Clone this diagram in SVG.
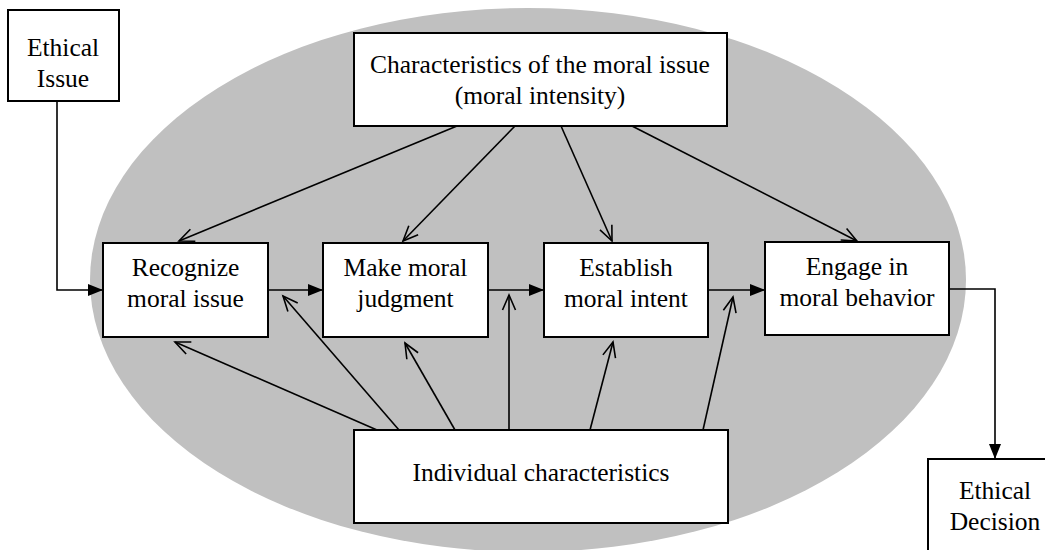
<svg xmlns="http://www.w3.org/2000/svg" width="1045" height="550" viewBox="0 0 1045 550">
<style>
.box{fill:#fff;stroke:#000;stroke-width:2}
.t{font-family:"Liberation Serif","Times New Roman",serif;font-size:25.5px;fill:#000;text-anchor:middle}
.c{fill:none;stroke:#000;stroke-width:1.6}
.f{marker-end:url(#fa)}
.o{marker-end:url(#oa)}
</style>
<defs>
<marker id="fa" markerUnits="userSpaceOnUse" markerWidth="16" markerHeight="12" refX="15" refY="6" orient="auto" overflow="visible">
<path d="M0,0 L15,6 L0,12 z" fill="#000"/>
</marker>
<marker id="oa" markerUnits="userSpaceOnUse" markerWidth="18" markerHeight="14" refX="16" refY="7" orient="auto" overflow="visible">
<path d="M1,0.5 L16,7 L1,13.5" fill="none" stroke="#000" stroke-width="1.6"/>
</marker>
</defs>
<ellipse id="background" cx="528" cy="280" rx="438" ry="272" fill="#c0c0c0"/>
<g id="connectors">
<path class="c f" d="M57,101 L57,290 L103,290"/>
<path class="c f" d="M268,290 L323,290"/>
<path class="c f" d="M488,290 L544,290"/>
<path class="c f" d="M708,290 L765,290"/>
<path class="c f" d="M949,289 L995,289 L995,459"/>
<path class="c o" d="M457,126 L179,241"/>
<path class="c o" d="M515,126 L403,241"/>
<path class="c o" d="M561,126 L612,241"/>
<path class="c o" d="M632,126 L857,241"/>
<path class="c o" d="M377,430 L175,342"/>
<path class="c o" d="M399,430 L283,296"/>
<path class="c o" d="M455,430 L405,343"/>
<path class="c o" d="M509,430 L509,295"/>
<path class="c o" d="M590,430 L613,342"/>
<path class="c o" d="M703,430 L733,297"/>
</g>
<g id="ethical-issue">
<rect class="box" x="8" y="10" width="111" height="91"/>
<text class="t" x="63" y="56">Ethical</text>
<text class="t" x="63" y="87">Issue</text>
</g>
<g id="characteristics">
<rect class="box" x="354" y="33" width="373" height="93"/>
<text class="t" x="540" y="73">Characteristics of the moral issue</text>
<text class="t" x="540" y="104">(moral intensity)</text>
</g>
<g id="recognize">
<rect class="box" x="103" y="243" width="165" height="94"/>
<text class="t" x="185.5" y="276">Recognize</text>
<text class="t" x="185.5" y="307">moral issue</text>
</g>
<g id="judgment">
<rect class="box" x="323" y="243" width="165" height="94"/>
<text class="t" x="405.5" y="276">Make moral</text>
<text class="t" x="405.5" y="307">judgment</text>
</g>
<g id="intent">
<rect class="box" x="544" y="243" width="164" height="94"/>
<text class="t" x="626" y="276">Establish</text>
<text class="t" x="626" y="307">moral intent</text>
</g>
<g id="behavior">
<rect class="box" x="765" y="242" width="184" height="93"/>
<text class="t" x="857" y="275">Engage in</text>
<text class="t" x="857" y="306">moral behavior</text>
</g>
<g id="individual">
<rect class="box" x="354" y="430" width="374" height="93"/>
<text class="t" x="541" y="481">Individual characteristics</text>
</g>
<g id="ethical-decision">
<rect class="box" x="928" y="459" width="140" height="120"/>
<text class="t" x="995" y="499">Ethical</text>
<text class="t" x="995" y="530">Decision</text>
</g>
</svg>
